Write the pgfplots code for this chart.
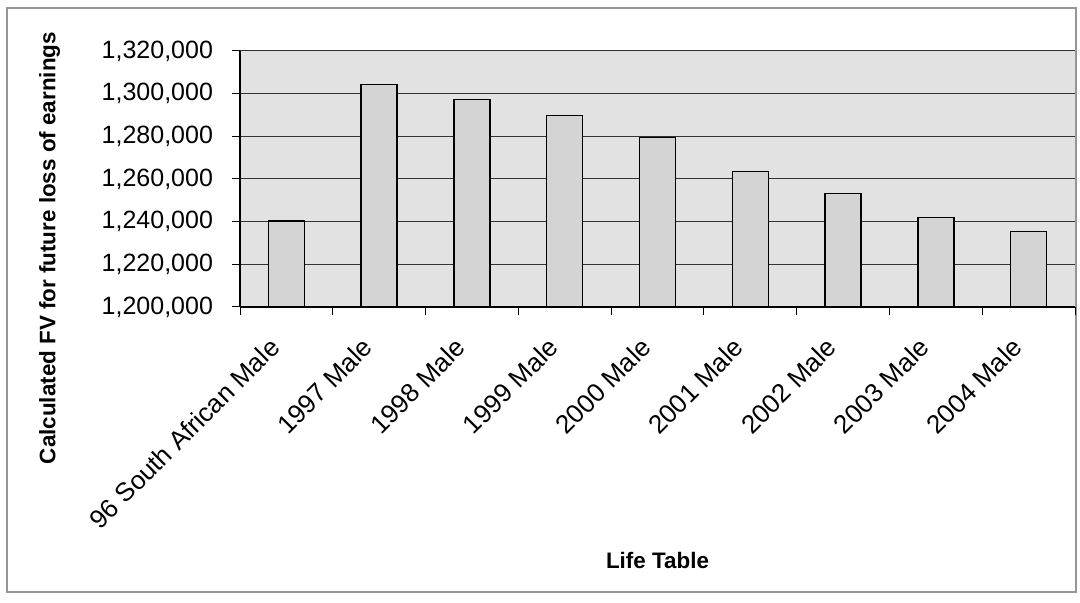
\documentclass[border=0pt]{standalone}
\usepackage{fontspec}
\setmainfont{Liberation Sans}
\usepackage{pgfplots}
\pgfplotsset{compat=1.18}

\definecolor{plotbg}{RGB}{226,226,226}
\definecolor{barfill}{RGB}{212,212,212}
\definecolor{framegray}{RGB}{150,150,150}

\begin{document}
\begin{tikzpicture}
% page = 1080 x 603 px at 0.5pt per px
\path (0,0) rectangle (540pt,301.5pt);
\draw[framegray, line width=0.6pt] (3.5pt,5.5pt) rectangle (538pt,297.5pt);

\begin{axis}[
    at={(120pt,148pt)},
    anchor=south west,
    scale only axis,
    width=417.5pt,
    height=128pt,
    xmin=0.5, xmax=9.5,
    ymin=1200000, ymax=1320000,
    ytick distance=20000,
    xtick={1,...,9},
    xticklabels={96 South African Male, 1997 Male, 1998 Male, 1999 Male, 2000 Male, 2001 Male, 2002 Male, 2003 Male, 2004 Male},
    minor xtick={0.5,1.5,...,9.5},
    major x tick style={draw=none},
    minor x tick style={black, line width=0.5pt},
    y tick style={black, line width=0.5pt},
    tick align=outside,
    major tick length=4pt,
    minor tick length=4pt,
    axis lines*=left,
    axis line style={black, line width=0.6pt, -},
    axis background/.style={fill=plotbg},
    ymajorgrids=true,
    grid style={black!80, line width=0.5pt},
    scaled y ticks=false,
    /pgf/number format/.cd, fixed, 1000 sep={,}, assume math mode=true,
    /pgfplots/.cd,
    yticklabel style={font=\fontsize{12.5}{15}\selectfont, xshift=-6pt},
    xticklabel style={font=\fontsize{13}{15}\selectfont, rotate=45, anchor=north east, xshift=-10.5pt, yshift=2.5pt},
    xlabel={Life Table},
    xlabel style={font=\bfseries\fontsize{11.2}{13}\selectfont, at={(axis description cs:0.5,-0.99)}, anchor=center},
    ylabel={Calculated FV for future loss of earnings},
    ylabel style={font=\bfseries\fontsize{11.2}{13}\selectfont, at={(axis description cs:-0.228,0.23)}, anchor=center, rotate=0},
    clip=false,
]
\addplot[ybar, bar width=18pt, fill=barfill, draw=black, line width=0.75pt]
    coordinates {
        (1,1240200)
        (2,1304200)
        (3,1297200)
        (4,1289700)
        (5,1279500)
        (6,1263600)
        (7,1253300)
        (8,1241900)
        (9,1235300)
    };
\end{axis}
\end{tikzpicture}
\end{document}
